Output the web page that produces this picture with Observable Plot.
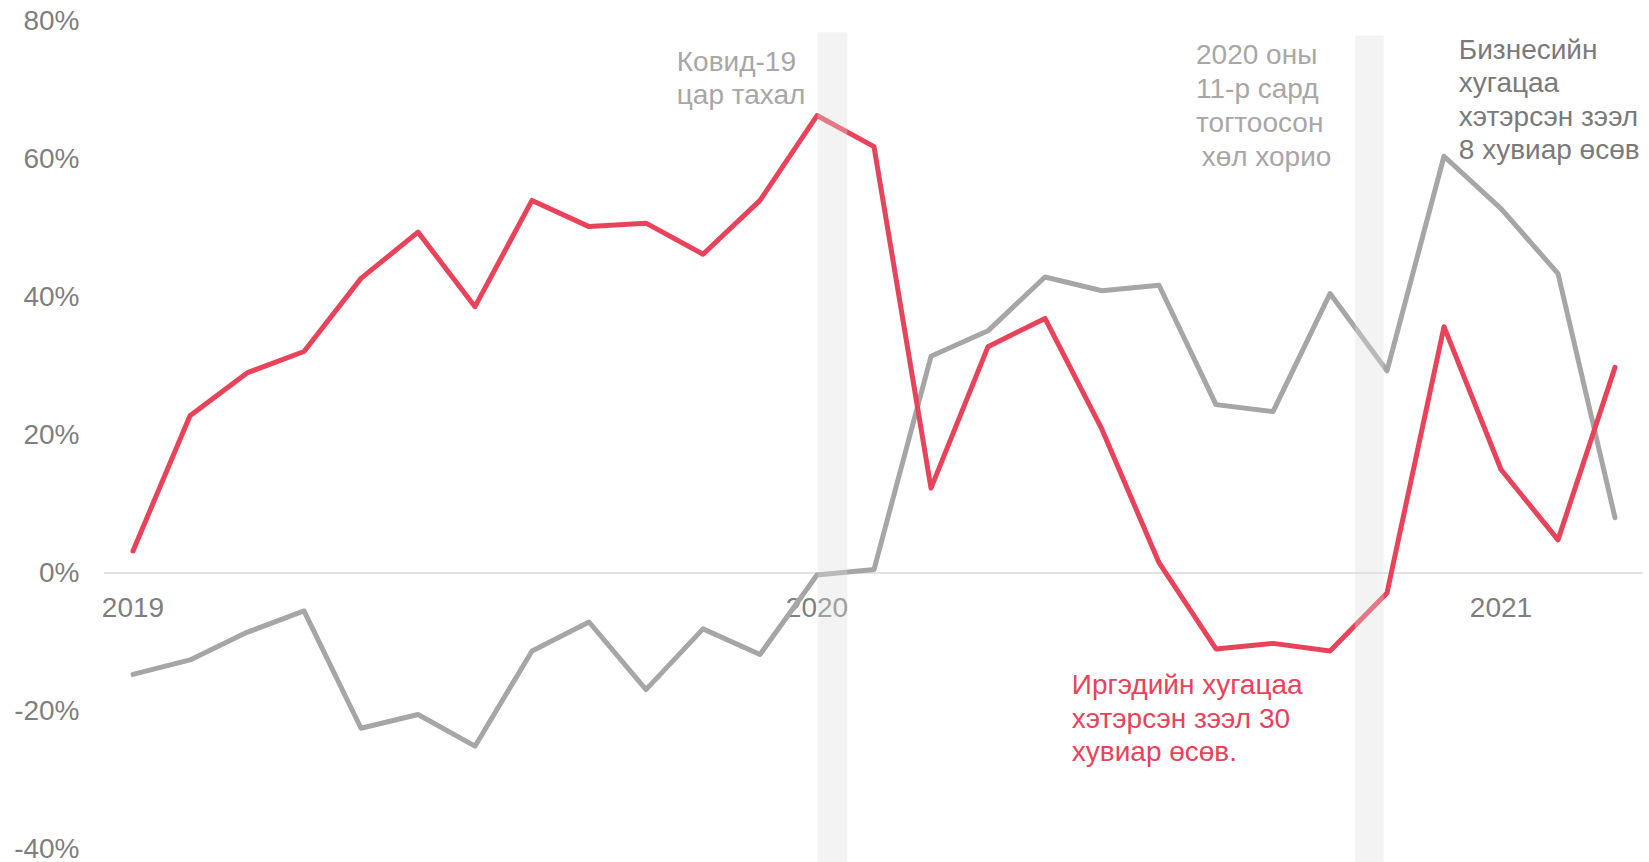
<!DOCTYPE html>
<html>
<head>
<meta charset="utf-8">
<script src="https://cdn.jsdelivr.net/npm/d3@7"></script>
<script src="https://cdn.jsdelivr.net/npm/@observablehq/plot@0.6"></script>
<style>
  html, body { margin: 0; padding: 0; background: #ffffff; }
  #chart svg { display: block; }
</style>
</head>
<body>
<div id="chart"></div>
<script>
// Months (category axis, Jan 2019 – Mar 2021)
const months = [
  "2019-01","2019-02","2019-03","2019-04","2019-05","2019-06","2019-07","2019-08","2019-09","2019-10","2019-11","2019-12",
  "2020-01","2020-02","2020-03","2020-04","2020-05","2020-06","2020-07","2020-08","2020-09","2020-10","2020-11","2020-12",
  "2021-01","2021-02","2021-03"
];
// Individual overdue loans, annual growth (%)
const individual = [3.2, 22.8, 29.0, 32.1, 42.7, 49.4, 38.6, 54.0, 50.2, 50.7, 46.2, 54.0,
  66.3, 61.8, 12.3, 32.8, 36.9, 20.8, 1.5, -11.0, -10.2, -11.3, -2.9, 35.7,
  15.0, 4.8, 29.8];
// Business overdue loans, annual growth (%)
const business = [-14.7, -12.6, -8.6, -5.5, -22.5, -20.5, -25.1, -11.3, -7.1, -16.9, -8.1, -11.8,
  -0.3, 0.5, 31.4, 35.1, 42.9, 40.9, 41.7, 24.4, 23.4, 40.5, 29.3, 60.4,
  52.8, 43.4, 8.0];
// Year tick labels
const yearLabels = ["2019", "2020", "2021"];
const yearMonths = ["2019-01", "2020-01", "2021-01"];
// Y ticks
const yTicks = [-40, -20, 0, 20, 40, 60, 80];
// Shaded event periods (in month-index units)
const bandStart = [12.02, 21.45];
const bandEnd = [12.54, 21.95];
const bandTop = [78.3, 77.8];
// Annotation texts
const annCovid = "Ковид-19\nцар тахал";
const annLockdown = "2020 оны\n11-р сард\nтогтоосон\n\u2009хөл хорио";
const annBusiness = "Бизнесийн\nхугацаа\nхэтэрсэн зээл\n8 хувиар өсөв";
const annIndividual = "Иргэдийн хугацаа\nхэтэрсэн зээл 30\nхувиар өсөв.";

const RED = "#e8435a";
const GREY = "#a6a6a6";
const AXIS = "#7f7f7f";

const idx = m => months.indexOf(m);
const indData = individual.map((v, i) => ({i, v}));
const busData = business.map((v, i) => ({i, v}));
const bands = bandStart.map((s, k) => ({x1: s, x2: bandEnd[k], y2: bandTop[k]}));
const years = yearLabels.map((t, k) => ({i: idx(yearMonths[k]), t}));

const chart = Plot.plot({
  width: 1649,
  height: 862,
  marginLeft: 104,
  marginRight: 6,
  marginTop: 20.5,
  marginBottom: 13.5,
  style: {fontFamily: "'Liberation Sans', Arial, sans-serif", background: "#ffffff", overflow: "visible"},
  x: {type: "linear", domain: [-0.5, months.length - 0.5], axis: null},
  y: {domain: [-40, 80], axis: null},
  marks: [
    Plot.axisY(yTicks, {
      tickSize: 0, tickPadding: 25, fontSize: 28, fill: AXIS,
      tickFormat: d => `${d}%`, label: null
    }),
    Plot.ruleY([0], {stroke: "#d9d9d9", strokeWidth: 1.5}),
    Plot.text(years, {x: "i", y: () => 0, text: "t", dy: 35, fontSize: 28, fill: AXIS}),
    Plot.line(busData, {x: "i", y: "v", stroke: GREY, strokeWidth: 5, strokeLinejoin: "round", strokeLinecap: "round"}),
    Plot.line(indData, {x: "i", y: "v", stroke: RED, strokeWidth: 5, strokeLinejoin: "round", strokeLinecap: "round"}),
    Plot.rect(bands, {x1: "x1", x2: "x2", y1: () => -42, y2: "y2", fill: "#dedede", fillOpacity: 0.35}),
    Plot.text([annCovid], {x: () => 9.54, y: () => 76.2, text: d => d, textAnchor: "start", lineAnchor: "top", lineHeight: 1.18, fontSize: 28, fill: "#aaa6a6"}),
    Plot.text([annLockdown], {x: () => 18.65, y: () => 77.2, text: d => d, textAnchor: "start", lineAnchor: "top", lineHeight: 1.21, fontSize: 28, fill: "#aaa6a6"}),
    Plot.text([annBusiness], {x: () => 23.26, y: () => 78.0, text: d => d, textAnchor: "start", lineAnchor: "top", lineHeight: 1.2, fontSize: 28, fill: "#7a7a7a"}),
    Plot.text([annIndividual], {x: () => 16.47, y: () => -14.1, text: d => d, textAnchor: "start", lineAnchor: "top", lineHeight: 1.2, fontSize: 28, fill: RED})
  ]
});
document.getElementById("chart").appendChild(chart);
</script>
</body>
</html>
